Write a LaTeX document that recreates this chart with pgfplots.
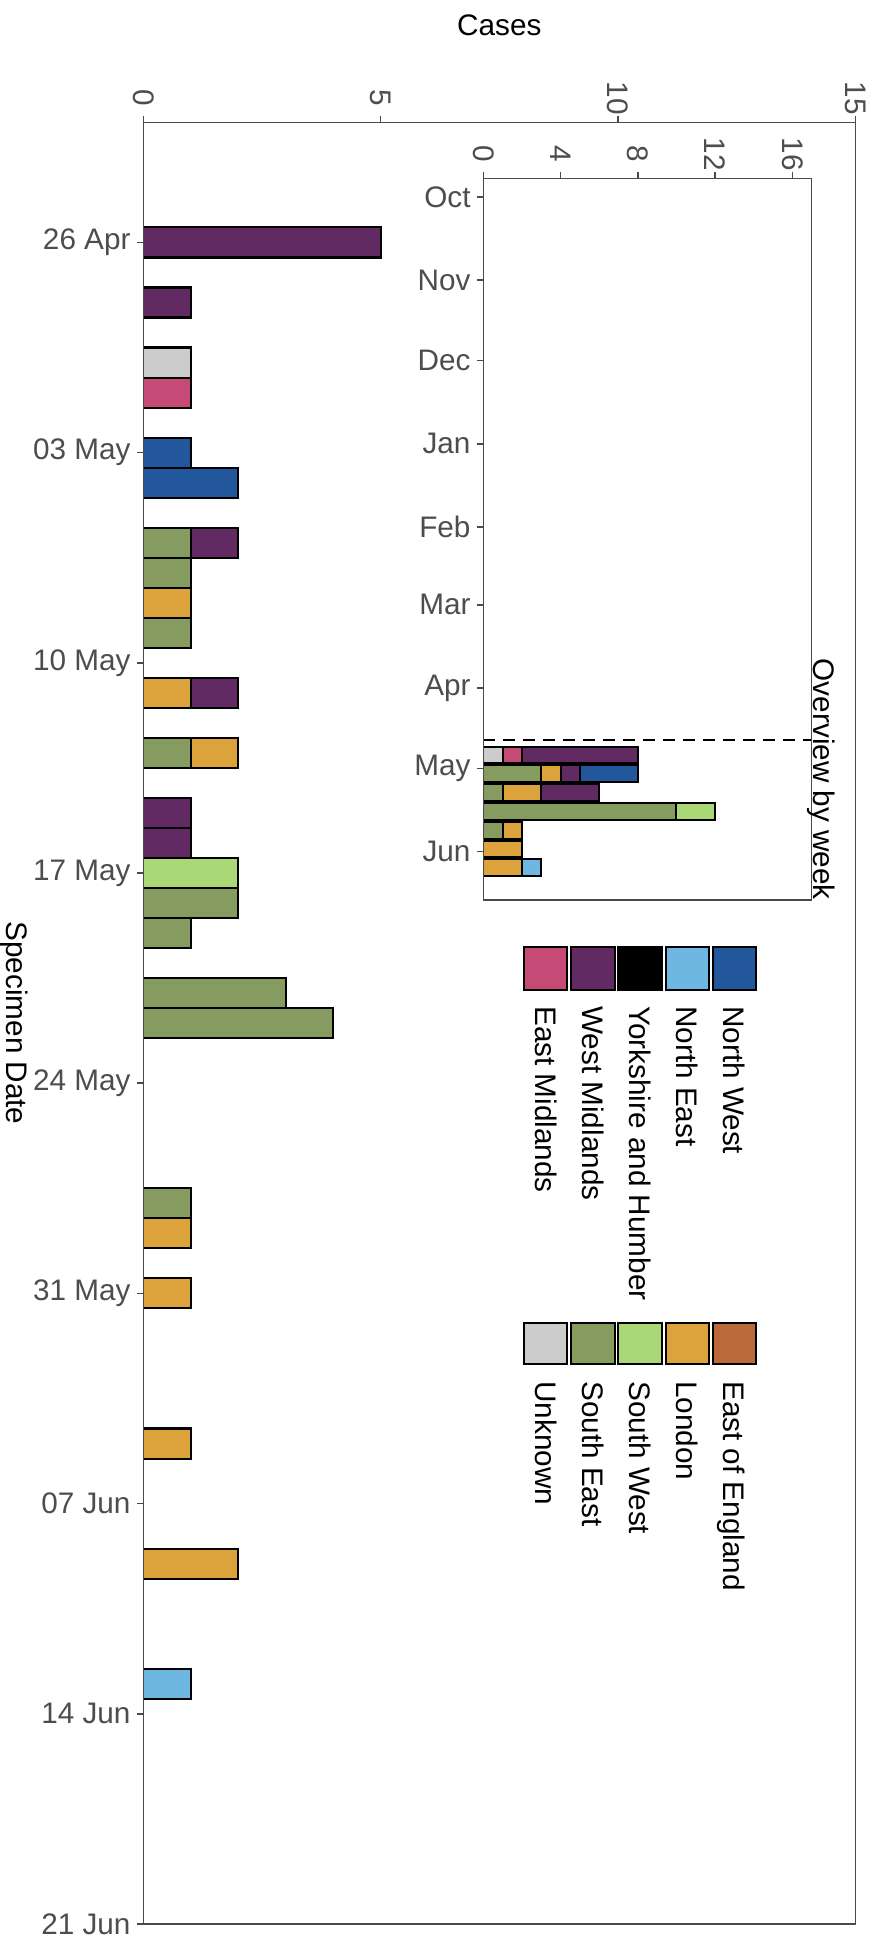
\documentclass[border=0pt]{standalone}
\usepackage{fontspec}
\setmainfont{Liberation Sans}
\usepackage{pgfplots}
\usepackage{pgfplotstable}
\pgfplotsset{compat=1.18}

\definecolor{cUnk}{HTML}{CCCCCC}
\definecolor{cSE}{HTML}{869B5F}
\definecolor{cSW}{HTML}{AAD876}
\definecolor{cLon}{HTML}{DCA23B}
\definecolor{cEoE}{HTML}{B86A3B}
\definecolor{cEM}{HTML}{C54A76}
\definecolor{cWM}{HTML}{622A62}
\definecolor{cYH}{HTML}{000000}
\definecolor{cNE}{HTML}{6FB7E3}
\definecolor{cNW}{HTML}{22579C}
\definecolor{axc}{HTML}{4A4A4A}
\definecolor{tlc}{HTML}{4D4D4D}
\newcommand{\tfont}{\fontsize{29.7}{35}\selectfont}

% day = days after 26 Apr
\pgfplotstableread{
day Unk SE SW Lon EoE EM WM YH NE NW
0  0 0 0 0 0 0 5 0 0 0
2  0 0 0 0 0 0 1 0 0 0
4  1 0 0 0 0 0 0 0 0 0
5  0 0 0 0 0 1 0 0 0 0
7  0 0 0 0 0 0 0 0 0 1
8  0 0 0 0 0 0 0 0 0 2
10 0 1 0 0 0 0 1 0 0 0
11 0 1 0 0 0 0 0 0 0 0
12 0 0 0 1 0 0 0 0 0 0
13 0 1 0 0 0 0 0 0 0 0
15 0 0 0 1 0 0 1 0 0 0
17 0 1 0 1 0 0 0 0 0 0
19 0 0 0 0 0 0 1 0 0 0
20 0 0 0 0 0 0 1 0 0 0
21 0 0 2 0 0 0 0 0 0 0
22 0 2 0 0 0 0 0 0 0 0
23 0 1 0 0 0 0 0 0 0 0
25 0 3 0 0 0 0 0 0 0 0
26 0 4 0 0 0 0 0 0 0 0
32 0 1 0 0 0 0 0 0 0 0
33 0 0 0 1 0 0 0 0 0 0
35 0 0 0 1 0 0 0 0 0 0
40 0 0 0 1 0 0 0 0 0 0
44 0 0 0 2 0 0 0 0 0 0
48 0 0 0 0 0 0 0 0 1 0
}\daily

\pgfplotstableread{
day Unk SE SW Lon EoE EM WM YH NE NW
0  1 0  0 0 0 1 6 0 0 0
7  0 3  0 1 0 0 1 0 0 3
14 0 1  0 2 0 0 3 0 0 0
21 0 10 2 0 0 0 0 0 0 0
28 0 1  0 1 0 0 0 0 0 0
35 0 0  0 2 0 0 0 0 0 0
42 0 0  0 2 0 0 0 0 1 0
}\weekly

\pgfplotsset{
  common/.style={
    scale only axis,
    axis on top,
    y dir=reverse,
    xbar stacked,
    tick align=outside,
    major tick length=6.7pt,
    xtick pos=right, xticklabel pos=right,
    ytick pos=left, yticklabel pos=left,
    every tick/.style={color=axc, line width=1.5pt},
    axis line style={color=axc, line width=1.5pt},
    tick label style={font=\tfont, text=tlc},
    xticklabel style={rotate=-90, anchor=center, inner sep=0pt},
    yticklabel style={anchor=east, inner sep=0pt},
    xticklabel shift=17.6pt,
    yticklabel shift=5.9pt,
  },
  bar/.style={fill=#1, draw=black, line width=2.1pt},
}

\begin{document}
\begin{tikzpicture}
\path[use as bounding box] (0,0) rectangle (876pt,-1946pt);

% main axis
\begin{axis}[common,
  at={(143.3pt,-122.3pt)}, anchor=north west,
  width=712pt, height=1801.7pt,
  xmin=0, xmax=15, ymin=-4, ymax=56,
  bar width=1,
  xtick={0,5,10,15}, xticklabels={0,5,10,15},
  ytick={0,7,14,21,28,35,42,49,56},
  yticklabels={26 Apr,03 May,10 May,17 May,24 May,31 May,07 Jun,14 Jun,21 Jun},
]
\addplot[bar=cUnk] table[x=Unk, y=day] {\daily};
\addplot[bar=cSE]  table[x=SE,  y=day] {\daily};
\addplot[bar=cSW]  table[x=SW,  y=day] {\daily};
\addplot[bar=cLon] table[x=Lon, y=day] {\daily};
\addplot[bar=cEoE] table[x=EoE, y=day] {\daily};
\addplot[bar=cEM]  table[x=EM,  y=day] {\daily};
\addplot[bar=cWM]  table[x=WM,  y=day] {\daily};
\addplot[bar=cYH]  table[x=YH,  y=day] {\daily};
\addplot[bar=cNE]  table[x=NE,  y=day] {\daily};
\addplot[bar=cNW]  table[x=NW,  y=day] {\daily};
\end{axis}

% inset: overview by week
\begin{axis}[common,
  at={(483.3pt,-178.3pt)}, anchor=north west,
  width=328.3pt, height=721.7pt,
  xmin=0, xmax=17, ymin=-214.9, ymax=54,
  bar width=6.3,
  xtick={0,4,8,12,16}, xticklabels={0,4,8,12,16},
  ytick={-208,-177,-147,-116,-85,-56,-25,5,36},
  yticklabels={Oct,Nov,Dec,Jan,Feb,Mar,Apr,May,Jun},
]
\addplot[bar=cUnk] table[x=Unk, y=day] {\weekly};
\addplot[bar=cSE]  table[x=SE,  y=day] {\weekly};
\addplot[bar=cSW]  table[x=SW,  y=day] {\weekly};
\addplot[bar=cLon] table[x=Lon, y=day] {\weekly};
\addplot[bar=cEoE] table[x=EoE, y=day] {\weekly};
\addplot[bar=cEM]  table[x=EM,  y=day] {\weekly};
\addplot[bar=cWM]  table[x=WM,  y=day] {\weekly};
\addplot[bar=cYH]  table[x=YH,  y=day] {\weekly};
\addplot[bar=cNE]  table[x=NE,  y=day] {\weekly};
\addplot[bar=cNW]  table[x=NW,  y=day] {\weekly};
\addplot[black, line width=2pt, dash pattern=on 12pt off 8pt, no marks, stack plots=false, sharp plot] coordinates {(0,-5.5) (17,-5.5)};
\end{axis}

% titles
\node[font=\tfont, anchor=base, inner sep=0pt] at (499.3pt,-35pt) {Cases};
\node[font=\tfont, rotate=-90, anchor=base, inner sep=0pt] at (6pt,-1023pt) {Specimen Date};
\node[font=\tfont, rotate=-90, anchor=base east, inner sep=0pt] at (813.3pt,-900pt) {Overview by week};

% legend
\foreach \c/\t [count=\i from 0] in {cEM/East Midlands,cWM/West Midlands,cYH/Yorkshire and Humber,cNE/North East,cNW/North West}{
  \pgfmathsetmacro{\cx}{545.8+47.1*\i}
  \draw[fill=\c, draw=black, line width=2pt] (\cx pt-21.6pt,-947pt) rectangle (\cx pt+21.6pt,-989.7pt);
  \node[font=\tfont, rotate=-90, anchor=base west, inner sep=0pt] at (\cx pt-10.5pt,-1006pt) {\t};
}
\foreach \c/\t [count=\i from 0] in {cUnk/Unknown,cSE/South East,cSW/South West,cLon/London,cEoE/East of England}{
  \pgfmathsetmacro{\cx}{545.8+47.1*\i}
  \draw[fill=\c, draw=black, line width=2pt] (\cx pt-21.6pt,-1322.7pt) rectangle (\cx pt+21.6pt,-1364pt);
  \node[font=\tfont, rotate=-90, anchor=base west, inner sep=0pt] at (\cx pt-10.5pt,-1381pt) {\t};
}
\end{tikzpicture}
\end{document}
